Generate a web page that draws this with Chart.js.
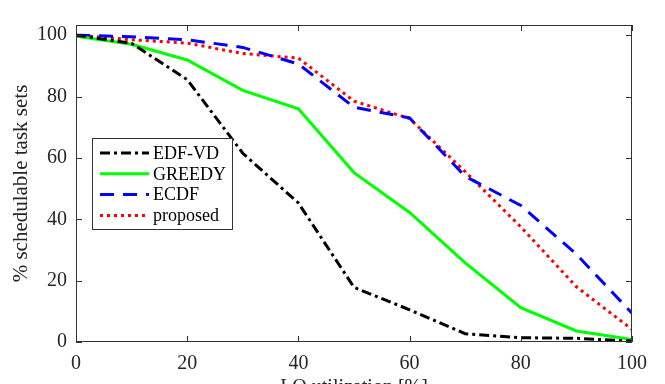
<!DOCTYPE html>
<html>
<head>
<meta charset="utf-8">
<script src="https://cdn.jsdelivr.net/npm/chart.js@4/dist/chart.umd.min.js"></script>
<style>
  html, body { margin: 0; padding: 0; background: #fff; overflow: hidden; }
  #wrap { width: 665px; height: 400px; }
</style>
</head>
<body>
<div id="wrap"><canvas id="chart" width="665" height="400"></canvas></div>
<script>
// x axis: LO utilization [%]
var utilization = [0, 10, 20, 30, 40, 50, 60, 70, 80, 90, 100];
var xTicks = [0, 20, 40, 60, 80, 100];
var yTicks = [0, 20, 40, 60, 80, 100];

// % schedulable task sets
var edfVd = [100, 97.3, 85.5, 61.5, 45.3, 17.8, 10.5, 2.7, 1.4, 1.2, 0.3];
var greedy = [99.6, 97, 91.9, 82, 76, 55.2, 42.2, 25.8, 11.2, 3.6, 0.8];
var ecdf = [100, 99.5, 98.5, 96, 90.6, 76.5, 73, 54, 44.5, 28.6, 9.4];
var proposed = [100, 98.5, 97.4, 94, 92.5, 78.5, 72.8, 55.5, 37.5, 18, 4.1];

var serif = '"Liberation Serif", "Times New Roman", serif';
var axisColor = '#333333';

function toPoints(values) {
    return values.map(function (v, i) { return { x: utilization[i], y: v }; });
}

// box, inner tick marks and the legend, MATLAB style
var matlabAxes = {
    id: 'matlabAxes',
    afterDatasetsDraw: function (chart) {
        var ctx = chart.ctx;
        var a = chart.chartArea;
        var xs = chart.scales.x, ys = chart.scales.y;
        ctx.save();
        ctx.strokeStyle = axisColor;
        ctx.lineWidth = 1;
        ctx.setLineDash([]);
        ctx.strokeRect(a.left + 0.5, a.top + 0.5, a.right - a.left - 1, a.bottom - a.top - 1);
        ctx.beginPath();
        xTicks.forEach(function (t) {
            var px = Math.round(xs.getPixelForValue(t)) + 0.5;
            ctx.moveTo(px, a.bottom); ctx.lineTo(px, a.bottom - 6);
            ctx.moveTo(px, a.top); ctx.lineTo(px, a.top + 6);
        });
        yTicks.forEach(function (t) {
            var py = Math.round(ys.getPixelForValue(t)) + 0.5;
            ctx.moveTo(a.left, py); ctx.lineTo(a.left + 6, py);
            ctx.moveTo(a.right, py); ctx.lineTo(a.right - 6, py);
        });
        ctx.stroke();

        // legend
        var bx = 92, by = 138, bw = 140, bh = 91;
        ctx.fillStyle = '#ffffff';
        ctx.fillRect(bx, by, bw, bh);
        ctx.strokeRect(bx + 0.5, by + 0.5, bw, bh);
        ctx.font = '18px ' + serif;
        ctx.textBaseline = 'middle';
        chart.data.datasets.forEach(function (ds, i) {
            var y = by + 15 + i * 20.8;
            ctx.beginPath();
            ctx.strokeStyle = ds.borderColor;
            ctx.lineWidth = ds.borderWidth;
            ctx.lineCap = 'butt';
            ctx.setLineDash(ds.borderDash || []);
            ctx.moveTo(bx + 8, y);
            ctx.lineTo(bx + 57, y);
            ctx.stroke();
            ctx.fillStyle = '#000000';
            ctx.fillText(ds.label, bx + 61, y + 1);
        });
        ctx.restore();
    }
};

new Chart(document.getElementById('chart').getContext('2d'), {
    type: 'line',
    data: {
        datasets: [{
            label: 'EDF-VD',
            data: toPoints(edfVd),
            borderColor: '#000000',
            borderDash: [10, 4, 3, 4],
            borderWidth: 3
        }, {
            label: 'GREEDY',
            data: toPoints(greedy),
            borderColor: '#00ff00',
            borderWidth: 3
        }, {
            label: 'ECDF',
            data: toPoints(ecdf),
            borderColor: '#0000ff',
            borderDash: [14, 9],
            borderWidth: 3
        }, {
            label: 'proposed',
            data: toPoints(proposed),
            borderColor: '#ff0000',
            borderDash: [3, 4],
            borderWidth: 3
        }]
    },
    options: {
        responsive: false,
        animation: false,
        events: [],
        elements: {
            point: { radius: 0 },
            line: { tension: 0, borderCapStyle: 'butt', fill: false }
        },
        layout: { padding: { top: 25, right: 33, left: 0, bottom: 0 } },
        plugins: {
            legend: { display: false },
            tooltip: { enabled: false }
        },
        scales: {
            x: {
                type: 'linear',
                min: 0,
                max: 100,
                afterFit: function (s) { s.height = 58; },
                afterBuildTicks: function (s) { s.ticks = xTicks.map(function (v) { return { value: v }; }); },
                grid: { display: false, drawTicks: false },
                border: { display: false },
                ticks: { color: '#262626', padding: 10, maxRotation: 0, font: { family: serif, size: 20 } },
                title: {
                    display: true,
                    text: 'LO utilization [%]',
                    color: '#262626',
                    padding: { top: 0, bottom: 0 },
                    font: { family: serif, size: 20 }
                }
            },
            y: {
                type: 'linear',
                min: 0,
                max: 103.3,
                afterFit: function (s) { s.width = 76; },
                afterBuildTicks: function (s) { s.ticks = yTicks.map(function (v) { return { value: v }; }); },
                grid: { display: false, drawTicks: false },
                border: { display: false },
                ticks: { color: '#262626', padding: 9, font: { family: serif, size: 20 } },
                title: {
                    display: true,
                    text: '% schedulable task sets',
                    color: '#262626',
                    padding: { top: 9, bottom: 0 },
                    font: { family: serif, size: 21 }
                }
            }
        }
    },
    plugins: [matlabAxes]
});
</script>
</body>
</html>
